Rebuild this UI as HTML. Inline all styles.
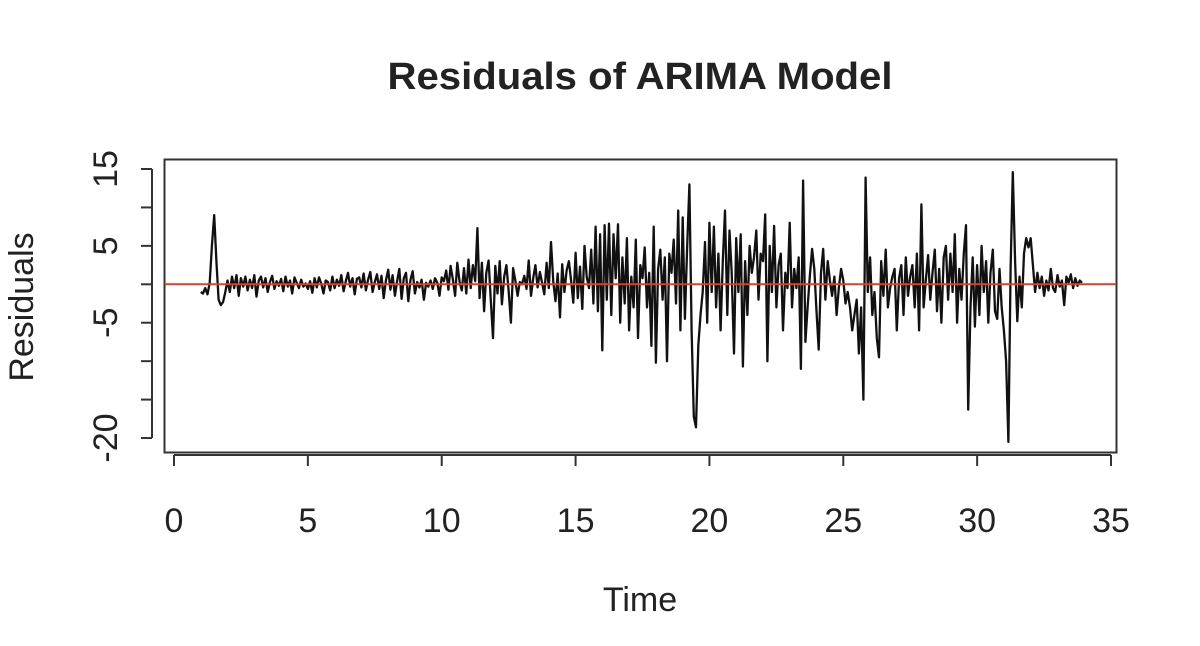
<!DOCTYPE html>
<html><head><meta charset="utf-8"><style>
body{margin:0;background:#fff;}
svg text{font-family:"Liberation Sans",Arial,sans-serif;fill:#222;}
</style></head><body>
<svg id="chart" width="1200" height="641" xmlns="http://www.w3.org/2000/svg">
<text x="640" y="89" text-anchor="middle" font-size="38" font-weight="bold" textLength="505" lengthAdjust="spacingAndGlyphs">Residuals of ARIMA Model</text>
<text x="640" y="611" text-anchor="middle" font-size="34">Time</text>
<text transform="translate(33,307) rotate(-90)" text-anchor="middle" font-size="34">Residuals</text>
<rect x="164.5" y="159.5" width="952" height="293" fill="none" stroke="#333" stroke-width="2"/>
<g id="axes"></g>
<g id="marks"></g>
</svg>
<script>
const xTicks=[0,5,10,15,20,25,30,35];
const yTicks=[15,10,5,0,-5,-10,-15,-20];
const yTickLabels=["15","","5","","-5","","","-20"];
const startTime=1;
const freq=12;
const residuals=[
-1,-1.2,-0.5,-1.3,0.2,5,9,3,-2,-2.7,-2.3,-1,
0.5,-1,1,-0.5,1.2,-1.5,0.8,-0.3,1,-0.8,0.6,-0.5,
1.2,-1.6,0.5,1,-0.4,0.8,-1,0.3,1.1,-0.6,0.4,-0.2,
0.7,-0.9,1,-0.3,0.5,-1.2,0.9,0.2,-0.5,0.6,-0.3,0.1,
-0.6,0.4,-1.1,0.8,-0.4,0.9,0.1,-1.2,0.5,0.3,-0.8,1,
-0.5,0.6,-0.2,1.2,-0.9,0.4,1.5,-0.3,0.8,-1.3,0.7,0.9,
-0.4,1.4,-0.8,0.6,1.6,-1,0.3,1.3,-0.6,1.1,-1.8,0.5,
1.9,-0.7,1.2,-1.5,0.4,2,-1.9,0.8,1.5,-2.2,0.6,1.7,
-1.2,0.3,-0.4,0.6,-2,0.2,-0.3,0.5,-0.6,0.8,0.2,-1.5,
0.9,0.4,1.8,-0.7,2.4,0.6,-1.5,2.8,0.3,-0.8,2.1,-1.2,
3.2,-0.5,2.5,0.4,7.3,-1.8,2.8,-3.5,1.5,3.1,-2.1,-7,
2.4,-1.2,3,-2.6,1,2.5,-0.8,-5,2.1,0.5,-1.5,0.3,
0,1.1,-0.6,3.1,-1.5,0.8,2.5,-0.4,1.6,0.2,-1.3,2.8,
-0.5,5.5,0.3,-2.2,1.4,-4.3,2.6,-1,1.8,3,0.5,-2.4,
4.1,-1.8,2.3,-3.2,5,1,-0.5,4.5,-2.5,7.5,-3.5,6.5,
-8.6,7.7,-2,7.9,-4,6.5,0.8,7.8,-5,3.5,-2.5,6,
-6,1,-3,5.8,-7,2.5,0.8,4.8,-3,1.5,-8,7.5,
-10.2,2,4.5,-2,3.5,-10,4,1.5,5.8,-2.5,9.6,-6,
8.7,-4.5,4.6,13,-6,-17.2,-18.6,-8,-4,-1,5.5,-5,
8,-1,7.5,-3,4,-6,3,9.6,-4,7,1.5,-9,
6,-1,6.5,-10.7,3,-4,5,1.5,3.5,7,-2,4,
3,9.1,-10,5,-1,7.6,-3,2.5,4,-6,1.5,-0.5,
8,-3,2,-0.5,3.5,-11,13.5,-7.5,-3,1,4.6,2,
-3.5,-8.5,1.5,4.6,-2,3,0.5,-1.5,1,-4,-0.5,2,
0.5,-2.5,-1,-3,-6,-4,-2,-9,-3,-15,13.9,-1,
3.5,-4,-1,-7,-9.5,3,-1.5,4.5,-3,-0.5,1,2,
-6,0.8,2.5,-4,3.5,-1.5,1,2.5,-3,4,-6,10.4,
-3,0.5,3.8,-2,1.5,4.5,-3.5,2,-5,3.5,5,-2,
4,-1,6.5,-5,2,-2,4,7.7,-16.3,-3,3.5,-5.5,
2.5,-4,5,-1,3,-5,1.5,4.5,-3.5,-4.5,2,-3,
-6,-10,-20.5,2,14.6,3,-4.8,1,-3,4,6,4.8,
6,2.5,-1,1.5,-0.5,1,-1.5,0.5,-0.8,2,-0.5,-1,
1.2,-0.3,0.5,-2.7,1,0.2,1.3,-0.5,0.8,-0.2,0.5,0.2
];
const NS="http://www.w3.org/2000/svg";
const xScale=t=>174+t*(1111-174)/35;
const yScale=v=>284.3-v*7.686;
const axes=document.getElementById('axes');
const marks=document.getElementById('marks');
function mk(tag,attrs,parent){const e=document.createElementNS(NS,tag);for(const k in attrs)e.setAttribute(k,attrs[k]);parent.appendChild(e);return e;}
let xl=mk('line',{x1:xScale(xTicks[0]),x2:xScale(xTicks[xTicks.length-1]),y1:455,y2:455,stroke:'#333','stroke-width':2},axes);


xTicks.forEach(t=>{
  const tk=mk('line',{x1:xScale(t),x2:xScale(t),y1:455,y2:466,stroke:'#333','stroke-width':2},axes);
  
  
  const tx=mk('text',{x:xScale(t),y:532,'text-anchor':'middle','font-size':34},axes);
  tx.textContent=t;
  
  
});
let yl=mk('line',{x1:152,x2:152,y1:yScale(yTicks[0]),y2:yScale(yTicks[yTicks.length-1]),stroke:'#333','stroke-width':2},axes);


yTicks.forEach((v,i)=>{
  const tk=mk('line',{x1:141,x2:152,y1:yScale(v),y2:yScale(v),stroke:'#333','stroke-width':2},axes);
  
  
  if(yTickLabels[i]){
    const tx=mk('text',{transform:`translate(117,${yScale(v)}) rotate(-90)`,'text-anchor':'middle','font-size':34},axes);
    tx.textContent=yTickLabels[i];
    
    
  }
});
const pts=residuals.map((v,i)=>xScale(startTime+i/freq).toFixed(1)+','+yScale(v).toFixed(1)).join(' ');
const pl=mk('polyline',{points:pts,fill:'none',stroke:'#111','stroke-width':2.3,'stroke-linejoin':'round'},marks);


const zl=mk('line',{x1:165,x2:1116,y1:yScale(0),y2:yScale(0),stroke:'#d8412a','stroke-width':2},marks);


</script>
</body></html>
